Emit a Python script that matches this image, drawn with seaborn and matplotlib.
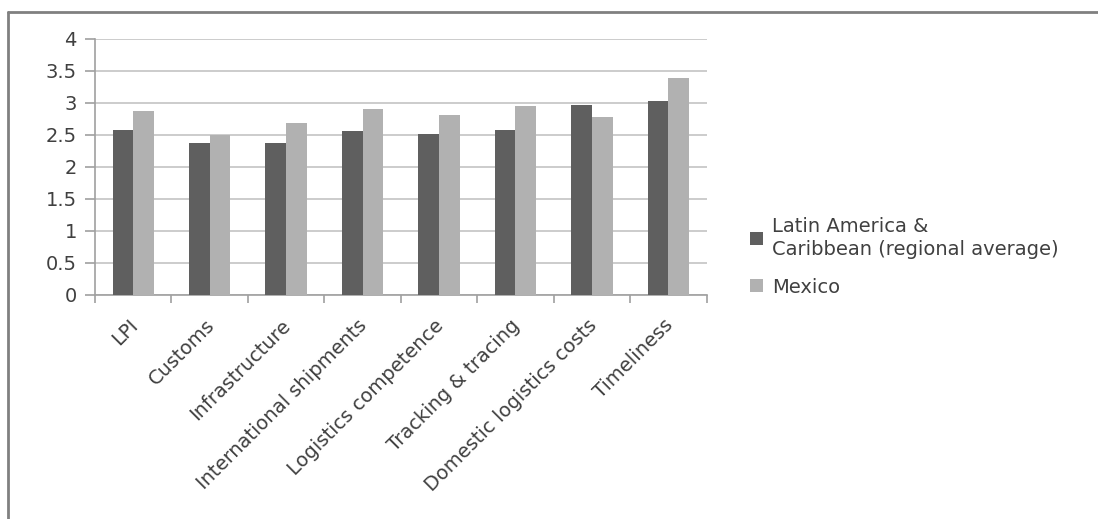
import matplotlib
matplotlib.use("Agg")
import matplotlib.pyplot as plt
import seaborn as sns
import pandas as pd
from matplotlib.lines import Line2D
from matplotlib.ticker import FixedLocator
from matplotlib.transforms import ScaledTranslation

categories = ["LPI", "Customs", "Infrastructure", "International shipments",
              "Logistics competence", "Tracking & tracing",
              "Domestic logistics costs", "Timeliness"]
series_names = ["Latin America &\nCaribbean (regional average)", "Mexico"]
latam = [2.57, 2.37, 2.37, 2.56, 2.52, 2.58, 2.96, 3.03]
mexico = [2.87, 2.50, 2.68, 2.91, 2.81, 2.95, 2.78, 3.38]
yticks = [0, 0.5, 1, 1.5, 2, 2.5, 3, 3.5, 4]
ytick_labels = ["0", "0.5", "1", "1.5", "2", "2.5", "3", "3.5", "4"]

df = pd.DataFrame({
    "category": categories * 2,
    "series": [series_names[0]] * len(categories) + [series_names[1]] * len(categories),
    "value": latam + mexico,
})

sns.set_theme(style="white")
plt.rcParams["font.family"] = ["DejaVu Sans"]

FS = 14
fig = plt.figure(figsize=(10.98, 5.19), dpi=100)
ax = fig.add_axes([0.0865, 0.4316, 0.557, 0.4938])

sns.barplot(data=df, x="category", y="value", hue="series", order=categories,
            hue_order=series_names, palette=["#5f5f5f", "#b1b1b1"],
            width=0.54, gap=0, ax=ax, saturation=1, legend=True, zorder=3,
            linewidth=0)

ax.set_ylim(0, 4)
ax.set_xlim(-0.5, len(categories) - 0.5)
ax.set_yticks(yticks)
ax.set_yticklabels(ytick_labels)
ax.yaxis.grid(True, color="#c8c8c8", linewidth=1.3, zorder=0)
ax.set_axisbelow(True)
ax.set_xlabel("")
ax.set_ylabel("")

for s in ["top", "right"]:
    ax.spines[s].set_visible(False)
for s in ["left", "bottom"]:
    ax.spines[s].set_color("#a0a0a0")
    ax.spines[s].set_linewidth(1.2)

ax.tick_params(axis="y", which="major", left=True, length=7, width=1.2,
               color="#a0a0a0", labelsize=FS, labelcolor="#404040", pad=6)
ax.set_xticks(range(len(categories)))
ax.set_xticklabels(categories, rotation=45, ha="right", rotation_mode="anchor",
                   fontsize=FS, color="#404040")
ax.tick_params(axis="x", which="major", bottom=False, pad=9)
for lab in ax.get_xticklabels():
    lab.set_transform(lab.get_transform() + ScaledTranslation(-5 / 100, 0, fig.dpi_scale_trans))
ax.xaxis.set_minor_locator(FixedLocator([i - 0.5 for i in range(len(categories) + 1)]))
ax.tick_params(axis="x", which="minor", bottom=True, length=6, width=1.2, color="#a0a0a0")

leg = ax.legend(loc="center left", bbox_to_anchor=(1.0708, 0.15), frameon=False,
                fontsize=FS, handlelength=0.67, handleheight=0.67,
                handletextpad=0.45, labelspacing=0.95, borderaxespad=0, borderpad=0)
for t in leg.get_texts():
    t.set_color("#404040")
    t.set_linespacing(1.3)

fig.add_artist(Line2D([8 / 1098, 8 / 1098], [0, 1 - 12 / 519],
                      transform=fig.transFigure, color="#808080", linewidth=2))
fig.add_artist(Line2D([8 / 1098, 1], [1 - 12 / 519, 1 - 12 / 519],
                      transform=fig.transFigure, color="#808080", linewidth=2))

fig.savefig("out.png", dpi=100)
